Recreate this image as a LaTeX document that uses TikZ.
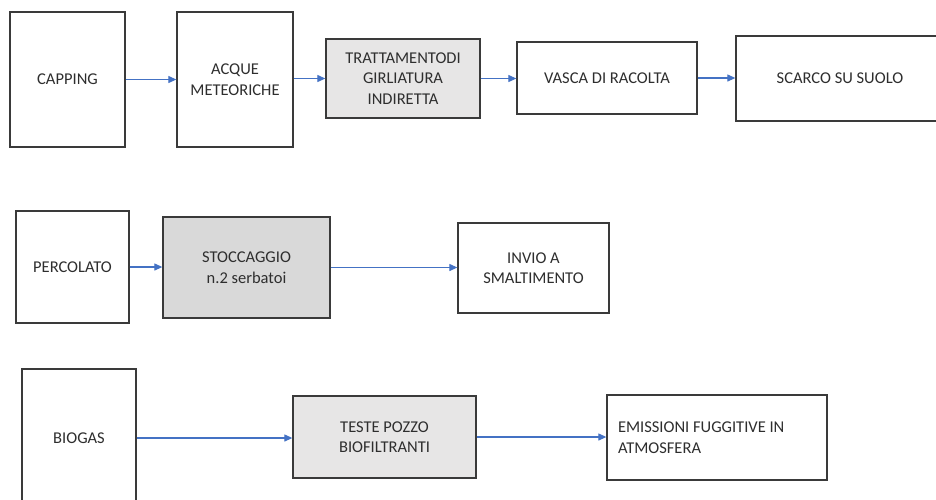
\documentclass[tikz,border=0pt]{standalone}
\usepackage{fontspec}
\setmainfont{Carlito}
\usetikzlibrary{arrows.meta}
\definecolor{edge}{HTML}{3A3A3A}
\definecolor{txt}{HTML}{2E2E2E}
\definecolor{flow}{HTML}{4472C4}
\definecolor{shadeA}{HTML}{E7E6E6}
\definecolor{shadeB}{HTML}{D9D9D9}
\tikzset{
  box/.style={draw=edge, line width=1.3pt, fill=white, text=txt, align=center,
    inner sep=0pt, font=\fontsize{16.5}{20.5}\selectfont},
  lightbox/.style={box, fill=shadeA},
  darkbox/.style={box, fill=shadeB},
  flowarrow/.style={draw=flow, line width=1.1pt,
    -{Triangle[length=8pt,width=7pt]}},
}
\begin{document}
\begin{tikzpicture}[x=1pt,y=-1pt]
\fill[white] (0,0) rectangle (936,499);
\useasboundingbox (0,0) rectangle (936,499);
\clip (0,0) rectangle (936,499);

% first line: rainwater from the capping
\node[box, minimum width=115pt, minimum height=135pt] (cap) at (67.5,79.5) {CAPPING};
\node[box, minimum width=116pt, minimum height=135pt] (acq) at (235,79.5) {ACQUE\\METEORICHE};
\node[lightbox, minimum width=154pt, minimum height=79pt] (tra) at (403,78.5) {TRATTAMENTODI\\GIRLIATURA\\INDIRETTA};
\node[box, minimum width=180pt, minimum height=72pt] (vas) at (607,78) {VASCA DI RACOLTA};
\node[box, minimum width=208pt, minimum height=85pt] (sca) at (840,78.5) {SCARCO SU SUOLO};

% second line: leachate
\node[box, minimum width=113pt, minimum height=112pt] (per) at (72.5,267) {PERCOLATO};
\node[darkbox, minimum width=167pt, minimum height=101pt] (sto) at (246.5,267.5) {STOCCAGGIO\\n.2 serbatoi};
\node[box, minimum width=151pt, minimum height=90pt] (inv) at (533.5,268) {INVIO A\\SMALTIMENTO};

% third line: biogas
\node[box, minimum width=114pt, minimum height=138pt] (bio) at (79,438) {BIOGAS};
\node[lightbox, minimum width=183pt, minimum height=82pt] (tes) at (384.5,437) {TESTE POZZO\\BIOFILTRANTI};
\node[box, minimum width=220pt, minimum height=85pt, align=flush left, text width=198pt] (emi) at (717,437.5) {EMISSIONI FUGGITIVE IN\\ATMOSFERA};

% connectors
\draw[flowarrow] (cap.east) -- (cap.east -| acq.west);
\draw[flowarrow] (acq.east |- tra.east) -- (tra.west);
\draw[flowarrow] (tra.east) -- (tra.east -| vas.west);
\draw[flowarrow] (vas.east) -- (vas.east -| sca.west);
\draw[flowarrow] (per.east) -- (per.east -| sto.west);
\draw[flowarrow] (sto.east) -- (sto.east -| inv.west);
\draw[flowarrow] (bio.east) -- (bio.east -| tes.west);
\draw[flowarrow] (tes.east) -- (tes.east -| emi.west);
\end{tikzpicture}
\end{document}
